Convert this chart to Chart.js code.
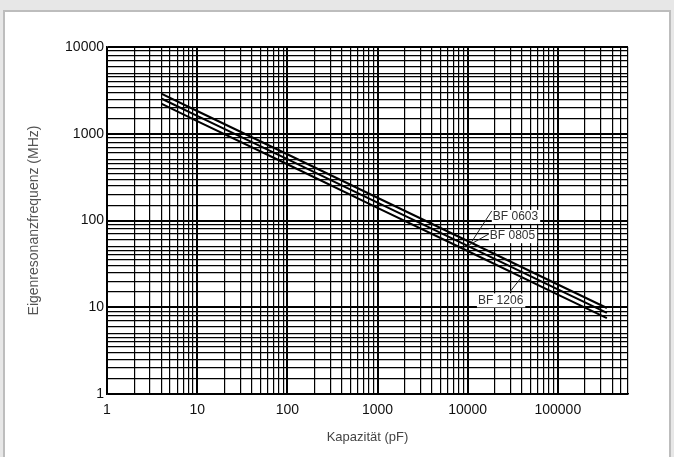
<!DOCTYPE html>
<html>
<head>
<meta charset="utf-8">
<script src="https://cdn.jsdelivr.net/npm/chart.js@4.4.0/dist/chart.umd.min.js"></script>
<style>
    html, body {
        margin: 0;
        padding: 0;
        background: #e7e7e7;
        width: 674px;
        height: 457px;
        overflow: hidden;
    }
    #panel {
        position: absolute;
        left: 3px;
        top: 10px;
        width: 664px;
        height: 460px;
        background: #fff;
        border: 2px solid #bdbdbd;
    }
    #chart {
        position: absolute;
        left: 0;
        top: 0;
    }
</style>
</head>
<body>
<div id="panel"></div>
<canvas id="chart" width="674" height="457"></canvas>
<script>
// Kapazität in pF (x) and read-off Eigenresonanzfrequenz in MHz (y)
var capacity = [4, 10, 100, 1000, 10000, 100000, 350000];
var bf0603 = [2900, 1830, 580, 183, 58, 18.3, 9.8];
var bf0805 = [2550, 1610, 510, 161, 51, 16.1, 8.6];
var bf1206 = [2225, 1400, 445, 140, 44.5, 14, 7.5];

var xTickLabels = ["1", "10", "100", "1000", "10000", "100000"];
var yTickLabels = ["1", "10", "100", "1000", "10000"];

var xMant = [1, 2, 3, 4, 5, 6, 7, 8, 9];
var yMant = [1, 1.5, 2, 2.5, 3, 3.5, 4, 4.5, 5, 6, 7, 8, 9];

function points(ys) {
    return capacity.map(function (c, i) {
        return {x: c, y: ys[i]};
    });
}

function gridTicks(min, max, mant) {
    var out = [];
    for (var e = 0; Math.pow(10, e) <= max; e++) {
        mant.forEach(function (m) {
            var v = m * Math.pow(10, e);
            if (v >= min && v <= max) out.push({value: v});
        });
    }
    return out;
}

function isDecade(v) {
    var l = Math.log10(v);
    return Math.abs(l - Math.round(l)) < 1e-9;
}

// labels with leader lines, in data units
var notes = [
    {text: "BF 0603", tx: 19000, ty: 110, from: [18500, 129], to: [11100, 57]},
    {text: "BF 0805", tx: 17600, ty: 66, from: [17200, 70], to: [10000, 51]},
    {text: "BF 1206", tx: 13000, ty: 12, from: [29300, 15], to: [40000, 22.5]}
];

var notePlugin = {
    id: "notes",
    afterDatasetsDraw: function (chart) {
        var ctx = chart.ctx;
        var xs = chart.scales.x, ys = chart.scales.y;
        ctx.save();
        ctx.font = "12px 'Liberation Sans', Arial, sans-serif";
        ctx.textBaseline = "middle";
        notes.forEach(function (n) {
            var px = xs.getPixelForValue(n.tx), py = ys.getPixelForValue(n.ty);
            var w = ctx.measureText(n.text).width;
            ctx.fillStyle = "#fff";
            ctx.fillRect(px - 1, py - 7, w + 3, 14);
            ctx.fillStyle = "#333";
            ctx.fillText(n.text, px, py);
            ctx.strokeStyle = "#222";
            ctx.lineWidth = 1;
            ctx.beginPath();
            ctx.moveTo(xs.getPixelForValue(n.from[0]), ys.getPixelForValue(n.from[1]));
            ctx.lineTo(xs.getPixelForValue(n.to[0]), ys.getPixelForValue(n.to[1]));
            ctx.stroke();
        });
        ctx.restore();
    }
};

var lineStyle = {
    borderColor: "#000",
    borderWidth: 2,
    pointRadius: 0,
    fill: false,
    tension: 0
};

var config = {
    type: "line",
    data: {
        datasets: [
            Object.assign({label: "BF 0603", data: points(bf0603)}, lineStyle),
            Object.assign({label: "BF 0805", data: points(bf0805)}, lineStyle),
            Object.assign({label: "BF 1206", data: points(bf1206)}, lineStyle)
        ]
    },
    options: {
        responsive: false,
        animation: false,
        layout: {
            padding: {top: 47, right: 46, bottom: 0, left: 0}
        },
        plugins: {
            legend: {display: false},
            tooltip: {enabled: false}
        },
        scales: {
            x: {
                type: "logarithmic",
                min: 1,
                max: 600000,
                afterBuildTicks: function (scale) {
                    scale.ticks = gridTicks(1, 600000, xMant);
                },
                afterFit: function (scale) {
                    scale.height = 63;
                },
                ticks: {
                    autoSkip: false,
                    maxRotation: 0,
                    padding: 8,
                    color: "#111",
                    font: {family: "'Liberation Sans', Arial, sans-serif", size: 14},
                    callback: function (v) {
                        var i = Math.round(Math.log10(v));
                        return isDecade(v) && xTickLabels[i] ? xTickLabels[i] : "";
                    }
                },
                grid: {
                    color: "#000",
                    drawTicks: false,
                    lineWidth: function (c) {
                        return c.tick && isDecade(c.tick.value) ? 2 : 1.2;
                    }
                },
                border: {color: "#000", width: 1.5},
                title: {
                    display: true,
                    text: "Kapazität (pF)",
                    color: "#444",
                    font: {family: "'Liberation Sans', Arial, sans-serif", size: 13},
                    padding: {top: 0, bottom: 12}
                }
            },
            y: {
                type: "logarithmic",
                min: 1,
                max: 10000,
                afterBuildTicks: function (scale) {
                    scale.ticks = gridTicks(1, 10000, yMant);
                },
                afterFit: function (scale) {
                    scale.width = 107;
                },
                ticks: {
                    autoSkip: false,
                    padding: 3,
                    color: "#111",
                    font: {family: "'Liberation Sans', Arial, sans-serif", size: 14},
                    callback: function (v) {
                        var i = Math.round(Math.log10(v));
                        return isDecade(v) && yTickLabels[i] ? yTickLabels[i] : "";
                    }
                },
                grid: {
                    color: "#000",
                    drawTicks: false,
                    lineWidth: function (c) {
                        return c.tick && isDecade(c.tick.value) ? 2 : 1.2;
                    }
                },
                border: {color: "#000", width: 1.5},
                title: {
                    display: true,
                    text: "Eigenresonanzfrequenz (MHz)",
                    color: "#555",
                    font: {family: "'Liberation Sans', Arial, sans-serif", size: 14},
                    padding: {top: 26, bottom: 0}
                }
            }
        }
    },
    plugins: [notePlugin]
};

var ctx = document.getElementById("chart").getContext("2d");
window.myChart = new Chart(ctx, config);
</script>
</body>
</html>
